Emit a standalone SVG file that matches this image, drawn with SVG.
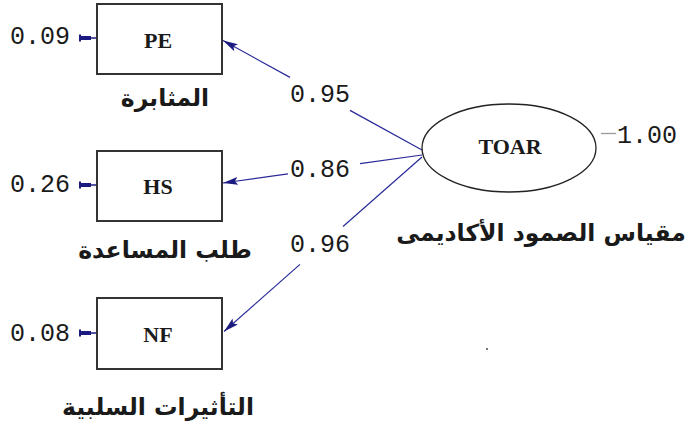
<svg xmlns="http://www.w3.org/2000/svg" width="696" height="425" viewBox="0 0 696 425">
  <style>
    .box { fill: #ffffff; stroke: #333333; stroke-width: 2; }
    .latent { fill: #ffffff; stroke: #222222; stroke-width: 1.3; }
    .code { font-family: "Liberation Serif", serif; font-weight: bold; font-size: 22px; fill: #1a1a1a; text-anchor: middle; }
    .num { font-family: "Liberation Mono", monospace; font-size: 25px; fill: #1a1a1a; }
    .ar { font-family: "DejaVu Sans", "Noto Sans", sans-serif; font-weight: bold; font-size: 23.5px; fill: #1a1a1a; text-anchor: middle; }
    .path { fill: none; stroke: #2a2a9a; stroke-width: 1.2; }
    .err { fill: none; stroke: #1a1a80; stroke-width: 1.5; }
    .errhead { fill: #1a1a80; }
  </style>
  <defs>
    <marker id="arrow" markerUnits="userSpaceOnUse" markerWidth="16" markerHeight="10" viewBox="0 -5 16 10" refX="15" refY="0" orient="auto">
      <path d="M0,-4 L15,0 L0,4 L3,0 z" fill="#1a1a80"/>
    </marker>
  </defs>

  <rect width="696" height="425" fill="#ffffff"/>

  <!-- connectors: loadings from the latent factor, residual arrows, factor variance -->
  <g id="connectors">
    <!-- TOAR -> PE -->
    <line class="path" x1="422" y1="150" x2="350" y2="110.4"/>
    <line class="path" x1="290" y1="77.4" x2="223" y2="40.5" marker-end="url(#arrow)"/>
    <!-- TOAR -> HS -->
    <line class="path" x1="422" y1="155" x2="360" y2="163.7"/>
    <line class="path" x1="288" y1="173.8" x2="223" y2="183" marker-end="url(#arrow)"/>
    <!-- TOAR -> NF -->
    <line class="path" x1="422" y1="157" x2="343" y2="226.5"/>
    <line class="path" x1="300" y1="264.4" x2="224" y2="331.5" marker-end="url(#arrow)"/>

    <!-- residual arrows into the indicators -->
    <g>
      <line class="err" x1="80" y1="38" x2="97" y2="38"/>
      <rect class="errhead" x="80" y="36" width="11" height="4"/>
      <rect class="errhead" x="79" y="34.5" width="2" height="7"/>
    </g>
    <g>
      <line class="err" x1="80" y1="185" x2="97" y2="185"/>
      <rect class="errhead" x="80" y="183" width="11" height="4"/>
      <rect class="errhead" x="79" y="181.5" width="2" height="7"/>
    </g>
    <g>
      <line class="err" x1="80" y1="333" x2="97" y2="333"/>
      <rect class="errhead" x="80" y="331" width="11" height="4"/>
      <rect class="errhead" x="79" y="329.5" width="2" height="7"/>
    </g>

    <!-- factor variance stub -->
    <line x1="601" y1="133.5" x2="616" y2="133.5" stroke="#999999" stroke-width="1.3"/>
  </g>

  <!-- loading values -->
  <g id="loadings">
    <text class="num" x="290" y="102">0.95</text>
    <text class="num" x="290" y="177">0.86</text>
    <text class="num" x="290" y="252">0.96</text>
  </g>

  <g id="PE">
    <rect class="box" x="97" y="4" width="125" height="70"/>
    <text class="code" x="158" y="48">PE</text>
    <text class="num" x="10" y="44">0.09</text>
    <text class="ar" x="165" y="106">المثابرة</text>
  </g>

  <g id="HS">
    <rect class="box" x="97" y="151" width="125" height="70"/>
    <text class="code" x="158" y="194">HS</text>
    <text class="num" x="10" y="192">0.26</text>
    <text class="ar" x="165" y="258">طلب المساعدة</text>
  </g>

  <g id="NF">
    <rect class="box" x="97" y="298" width="125" height="71"/>
    <text class="code" x="158" y="342">NF</text>
    <text class="num" x="10" y="341">0.08</text>
    <text class="ar" x="158" y="415">التأثيرات السلبية</text>
  </g>

  <g id="TOAR">
    <ellipse class="latent" cx="509" cy="148" rx="87" ry="44"/>
    <text class="code" x="510" y="154">TOAR</text>
    <text class="num" x="617" y="143">1.00</text>
    <text class="ar" x="541" y="241">مقياس الصمود الأكاديمى</text>
  </g>

  <!-- stray speck -->
  <rect x="486" y="348" width="2" height="2" fill="#777777"/>
</svg>
